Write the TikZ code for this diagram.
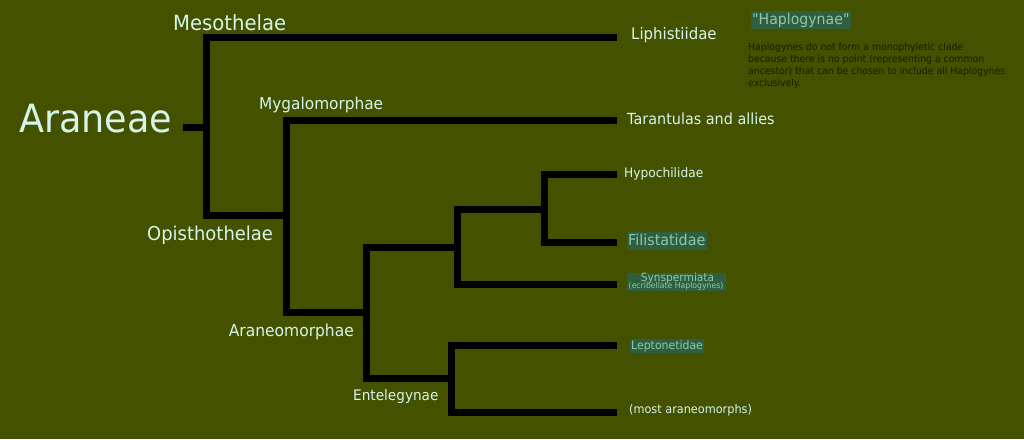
\documentclass[tikz,border=0pt]{standalone}
\usepackage{fontspec}
\setmainfont{DejaVu Sans}[FakeStretch=0.94, Ligatures=TeXOff]
\usepackage{xcolor}
\usepackage{tikz}
\definecolor{bg}{HTML}{445200}
\definecolor{pale}{HTML}{D4F4EC}
\definecolor{hlbox}{HTML}{2F5F40}
\definecolor{hltext}{HTML}{8CC9AA}
\definecolor{note}{HTML}{161C00}
\newcommand{\fs}[1]{\fontsize{#1}{#1}\selectfont}
\tikzset{
  branch/.style={draw=black, line width=7pt, line cap=butt, line join=miter},
  clade/.style={text=pale, anchor=base west, inner sep=0pt},
  hl/.style={fill=hlbox, text=hltext, anchor=base west, inner xsep=1.5pt, inner ysep=2pt},
  hltxt/.style={text=hltext, anchor=base, inner sep=0pt},
}

\begin{document}
\begin{tikzpicture}[x=1pt,y=-1pt]
  \fill[bg] (0,0) rectangle (1024,439);
  \useasboundingbox (0,0) rectangle (1024,439);
  \coordinate (root) at (183,127.5);
  \coordinate (sp) at (206,127.5);
  \coordinate (op) at (286.5,215.5);
  \coordinate (ar) at (366.5,312.5);
  \coordinate (hg) at (457.5,247);
  \coordinate (hc) at (544.5,209);
  \coordinate (en) at (451.5,378.5);
  \coordinate (tliph) at (617,37.5);
  \coordinate (ttar) at (617,120);
  \coordinate (thyp) at (617,174.5);
  \coordinate (tfil) at (617,242.5);
  \coordinate (tsyn) at (617,284);
  \coordinate (tlep) at (617,345.5);
  \coordinate (tmost) at (617,412.5);
  \draw[branch] (root) -- (sp);
  \draw[branch] (tliph) -| (sp) |- (op);
  \draw[branch] (ttar) -| (op) |- (ar);
  \draw[branch] (hg) -| (ar) |- (en);
  \draw[branch] (hc) -| (hg) |- (tsyn);
  \draw[branch] (thyp) -| (hc) |- (tfil);
  \draw[branch] (tlep) -| (en) |- (tmost);
  \node[clade, font=\fs{38.9}] (araneae) at (19,132) {Araneae};
  \node[clade, font=\fs{20.9}] (meso) at (173,30) {Mesothelae};
  \node[clade, font=\fs{19.1}] (opis) at (147,240) {Opisthothelae};
  \node[clade, font=\fs{16.3}] (mygal) at (259,109) {Mygalomorphae};
  \node[clade, font=\fs{16.5}] (araneo) at (228.6,336) {Araneomorphae};
  \node[clade, font=\fs{14.5}] (entel) at (353,400.7) {Entelegynae};
  \node[clade, font=\fs{15.9}] (liph) at (631,39.3) {Liphistiidae};
  \node[clade, font=\fs{15.3}] (tar) at (627,124) {Tarantulas and allies};
  \node[clade, font=\fs{13}] (hyp) at (624,177) {Hypochilidae};
  \node[hl, font=\fs{15.2}, text depth=0.22em] (fil) at (626.5,245.7) {Filistatidae};
  \node[fill=hlbox, inner sep=0pt, minimum width=99pt, minimum height=18pt, anchor=north west] (synbox) at (627,273) {};
  \node[hltxt, font=\fs{11.3}] (syn) at (677.5,281) {Synspermiata};
  \node[hltxt, font=\fs{8.2}] (ecrib) at (676,288.3) {(ecribellate Haplogynes)};
  \node[hl, font=\fs{11.6}, inner ysep=1.5pt] (lep) at (629.5,349) {Leptonetidae};
  \node[clade, font=\fs{12}] (most) at (629,413) {(most araneomorphs)};
  \node[hl, font=\fs{15}] (haplo) at (750.5,24.3) {"Haplogynae"};
  \node[text=note, anchor=north west, inner sep=0pt, align=left, font=\fontsize{9.9}{11.8}\selectfont] (noteText) at (748,43)
    {Haplogynes do not form a monophyletic clade\\because there is no point (representing a common\\ancestor) that can be chosen to include all Haplogynes\\exclusively.};
\end{tikzpicture}
\end{document}
